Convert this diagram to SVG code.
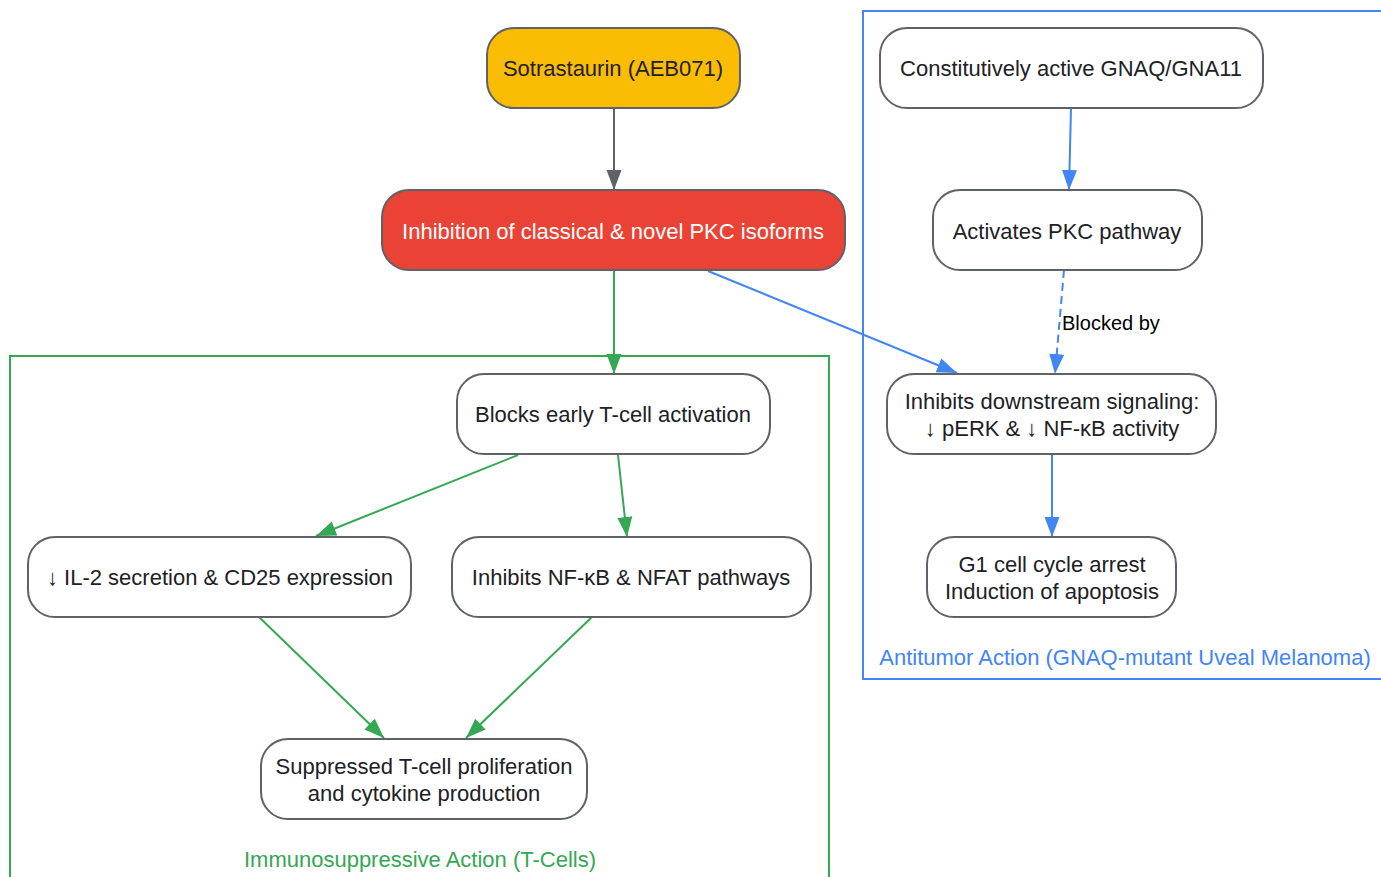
<svg xmlns="http://www.w3.org/2000/svg" width="1381" height="877" viewBox="0 0 1381 877">
<style>
.n{fill:#ffffff;stroke:#5f6368;stroke-width:2}
.t{font-family:"Liberation Sans",Arial,sans-serif;font-size:22px;fill:#202124;text-anchor:middle}
.e{fill:none;stroke-width:2}
.g{stroke:#34A853}
.b{stroke:#4285F4}
.k{stroke:#5f6368}
</style>
<defs>
<marker id="ag" markerUnits="userSpaceOnUse" markerWidth="22" markerHeight="18" refX="20" refY="9" orient="auto"><path d="M0,1.5 L20,9 L0,16.5 z" fill="#34A853"/></marker>
<marker id="ab" markerUnits="userSpaceOnUse" markerWidth="22" markerHeight="18" refX="20" refY="9" orient="auto"><path d="M0,1.5 L20,9 L0,16.5 z" fill="#4285F4"/></marker>
<marker id="ak" markerUnits="userSpaceOnUse" markerWidth="22" markerHeight="18" refX="20" refY="9" orient="auto"><path d="M0,1.5 L20,9 L0,16.5 z" fill="#5f6368"/></marker>
</defs>
<rect width="1381" height="877" fill="#ffffff"/>
<g id="cluster-immuno">
<rect x="10" y="356" width="819" height="540" fill="none" stroke="#34A853" stroke-width="2"/>
<text x="420" y="867" class="t" style="fill:#34A853">Immunosuppressive Action (T-Cells)</text>
</g>
<g id="cluster-antitumor">
<rect x="863" y="11" width="540" height="668" fill="none" stroke="#4285F4" stroke-width="2"/>
<text x="1125" y="665" class="t" style="fill:#4285F4">Antitumor Action (GNAQ-mutant Uveal Melanoma)</text>
</g>
<g id="connectors">
<line x1="614" y1="108" x2="614" y2="190" class="e k" marker-end="url(#ak)"/>
<line x1="614" y1="270" x2="614" y2="374" class="e g" marker-end="url(#ag)"/>
<line x1="708" y1="271" x2="957" y2="373" class="e b" marker-end="url(#ab)"/>
<line x1="1071" y1="108" x2="1069" y2="190" class="e b" marker-end="url(#ab)"/>
<line x1="1064" y1="270" x2="1055" y2="374" class="e b" stroke-dasharray="8,5" marker-end="url(#ab)"/>
<text x="1062" y="330" style="font-family:'Liberation Sans',Arial,sans-serif;font-size:20px;fill:#000000">Blocked by</text>
<line x1="1052" y1="454" x2="1052" y2="537" class="e b" marker-end="url(#ab)"/>
<line x1="518" y1="455" x2="316" y2="536" class="e g" marker-end="url(#ag)"/>
<line x1="618" y1="455" x2="627" y2="537" class="e g" marker-end="url(#ag)"/>
<line x1="259" y1="617" x2="384" y2="738" class="e g" marker-end="url(#ag)"/>
<line x1="592" y1="617" x2="466" y2="738" class="e g" marker-end="url(#ag)"/>
</g>
<g id="node-sotrastaurin">
<rect x="487" y="28" width="253" height="80" rx="27" class="n" style="fill:#FBBC04"/>
<text x="613" y="76" class="t">Sotrastaurin (AEB071)</text>
</g>
<g id="node-pkc-inhibition">
<rect x="382" y="190" width="463" height="80" rx="27" class="n" style="fill:#EA4335"/>
<text x="613" y="239" class="t" style="fill:#ffffff">Inhibition of classical &amp; novel PKC isoforms</text>
</g>
<g id="node-gnaq">
<rect x="880" y="28" width="383" height="80" rx="27" class="n"/>
<text x="1071" y="76" class="t">Constitutively active GNAQ/GNA11</text>
</g>
<g id="node-activates-pkc">
<rect x="933" y="190" width="269" height="80" rx="27" class="n"/>
<text x="1067" y="239" class="t">Activates PKC pathway</text>
</g>
<g id="node-downstream">
<rect x="887" y="374" width="329" height="80" rx="27" class="n"/>
<text x="1052" y="409" class="t">Inhibits downstream signaling:</text>
<text x="1052" y="436" class="t">↓ pERK &amp; ↓ NF-κB activity</text>
</g>
<g id="node-g1">
<rect x="927" y="537" width="249" height="80" rx="27" class="n"/>
<text x="1052" y="572" class="t">G1 cell cycle arrest</text>
<text x="1052" y="599" class="t">Induction of apoptosis</text>
</g>
<g id="node-blocks">
<rect x="457" y="374" width="313" height="80" rx="27" class="n"/>
<text x="613" y="422" class="t">Blocks early T-cell activation</text>
</g>
<g id="node-il2">
<rect x="28" y="537" width="383" height="80" rx="27" class="n"/>
<text x="220" y="585" class="t">↓ IL-2 secretion &amp; CD25 expression</text>
</g>
<g id="node-nfkb">
<rect x="452" y="537" width="359" height="80" rx="27" class="n"/>
<text x="631" y="585" class="t">Inhibits NF-κB &amp; NFAT pathways</text>
</g>
<g id="node-suppressed">
<rect x="261" y="739" width="326" height="80" rx="27" class="n"/>
<text x="424" y="774" class="t">Suppressed T-cell proliferation</text>
<text x="424" y="801" class="t">and cytokine production</text>
</g>
</svg>
